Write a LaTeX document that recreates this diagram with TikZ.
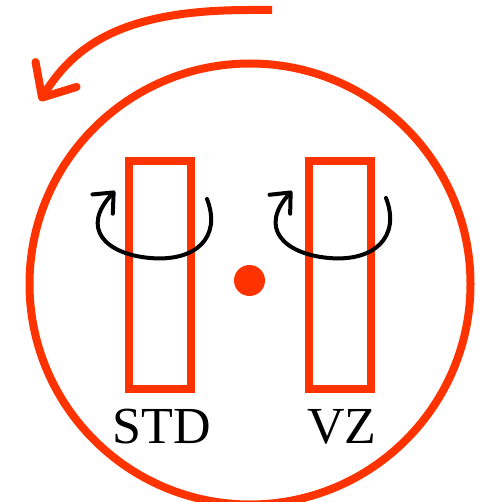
\documentclass[tikz,border=0pt]{standalone}
\usepackage{fontspec}
\setmainfont{Liberation Serif}
\usetikzlibrary{arrows.meta}
\definecolor{rred}{HTML}{FF3300}
\begin{document}
\begin{tikzpicture}[x=1pt,y=-1pt,
  redline/.style={draw=rred,line width=8pt},
  rectbox/.style={redline,minimum width=62pt,minimum height=228pt,inner sep=0pt,outer sep=0pt},
  curl/.style={draw=black,line width=4pt,line cap=round,-{Straight Barb[length=16pt,width=28pt,line width=4pt,round]}},
  lbl/.style={font=\fontsize{52}{52}\selectfont,inner sep=0pt,anchor=base}]
\useasboundingbox (0,0) rectangle (483,502);
\node[circle,redline,minimum size=441pt,inner sep=0pt,outer sep=0pt] (big) at (250,284) {};
\node[rectbox] (std) at (160,275) {};
\node[rectbox] (vz) at (340,275) {};
\node[circle,fill=rred,minimum size=31pt,inner sep=0pt] (dot) at (249.5,280.5) {};
\node[lbl] (tstd) at (162,443) {STD};
\node[lbl] (tvz) at (342,443) {VZ};
\coordinate (a0) at (272,10);
\coordinate (a1) at (40,101);
\draw[draw=rred,line width=8pt,-{Straight Barb[length=27pt,width=48pt,line width=8pt,round]}]
  (a0) -- (250,10) .. controls (140,10) and (80,35) .. (a1);
\coordinate (c1s) at (207,199);
\coordinate (c1e) at (115,191);
\draw[curl] (c1s) .. controls (222,238) and (195,262) .. (150,258)
  .. controls (105,254) and (80,228) .. (c1e);
\coordinate (c2s) at (386,198);
\coordinate (c2e) at (292,191);
\draw[curl] (c2s) .. controls (401,237) and (374,262) .. (329,258)
  .. controls (284,254) and (258,228) .. (c2e);
\end{tikzpicture}
\end{document}
